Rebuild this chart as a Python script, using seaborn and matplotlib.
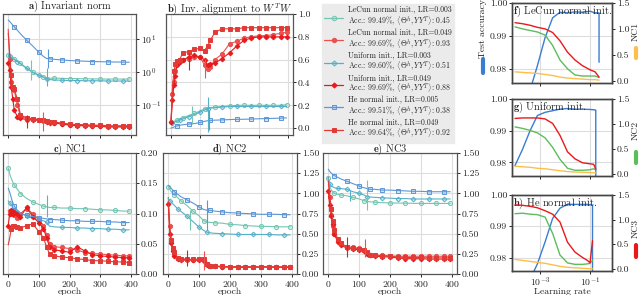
import matplotlib
matplotlib.use('Agg')
import matplotlib.pyplot as plt
import seaborn as sns
from matplotlib.colors import to_rgba
from matplotlib.lines import Line2D
from matplotlib.ticker import FormatStrFormatter, NullLocator

# ---------------- data ----------------
epochs = [0, 5, 10, 15, 20, 30, 40, 60, 80, 100, 115, 125, 135, 150,
          175, 200, 225, 250, 275, 300, 325, 350, 375, 395]

runs = ['lecun_lo', 'lecun_hi', 'unif_lo', 'unif_hi', 'he_lo', 'he_hi']
run_names = ['LeCun normal init.', 'LeCun normal init.', 'Uniform init.',
             'Uniform init.', 'He normal init.', 'He normal init.']
run_lr = ['0.003', '0.049', '0.003', '0.049', '0.005', '0.049']
run_acc = ['99.49', '99.69', '99.60', '99.69', '99.51', '99.64']
run_align = ['0.45', '0.93', '0.51', '0.88', '0.38', '0.92']

# a) invariant norm
norm_lecun_lo = [3.4, 3.1, 2.85, 2.65, 2.5, 2.15, 1.85, 1.35, 1.02, 0.82, 0.72, 0.68, 0.66, 0.66,
                 0.65, 0.64, 0.64, 0.63, 0.63, 0.62, 0.62, 0.62, 0.62, 0.62]
norm_unif_lo = [3.3, 3.0, 2.75, 2.55, 2.4, 2.1, 1.8, 1.3, 0.98, 0.8, 0.7, 0.62, 0.6, 0.58,
                0.57, 0.56, 0.56, 0.55, 0.55, 0.55, 0.54, 0.54, 0.54, 0.54]
norm_he_lo = [38, 34, 30, 26.5, 23.5, 18.5, 14.5, 9.3, 6.2, 4.0, 3.0, 2.6, 2.55, 2.45,
              2.35, 2.25, 2.2, 2.15, 2.1, 2.08, 2.05, 2.03, 2.02, 2.0]
norm_lecun_hi = [20, 2.5, 0.5, 0.32, 0.28, 0.1, 0.045, 0.04, 0.038, 0.037, 0.036, 0.033, 0.031, 0.03,
                 0.028, 0.026, 0.025, 0.025, 0.024, 0.024, 0.023, 0.023, 0.023, 0.023]
norm_unif_hi = [1.9, 1.2, 0.35, 0.15, 0.07, 0.045, 0.04, 0.037, 0.036, 0.035, 0.034, 0.032, 0.03, 0.029,
                0.027, 0.025, 0.024, 0.024, 0.023, 0.023, 0.022, 0.022, 0.022, 0.022]
norm_he_hi = [15, 3.5, 0.8, 0.35, 0.3, 0.15, 0.05, 0.042, 0.039, 0.037, 0.036, 0.034, 0.032, 0.031,
              0.029, 0.027, 0.026, 0.026, 0.025, 0.025, 0.024, 0.024, 0.024, 0.024]

# b) alignment to W^T W
align_lecun_lo = [0.05, 0.055, 0.06, 0.065, 0.07, 0.08, 0.09, 0.11, 0.13, 0.15, 0.17, 0.18, 0.18, 0.185,
                  0.19, 0.195, 0.2, 0.2, 0.2, 0.2, 0.2, 0.2, 0.2, 0.205]
align_unif_lo = [0.04, 0.045, 0.05, 0.055, 0.06, 0.07, 0.08, 0.1, 0.12, 0.14, 0.16, 0.17, 0.175, 0.18,
                 0.185, 0.19, 0.19, 0.19, 0.19, 0.19, 0.19, 0.19, 0.19, 0.19]
align_he_lo = [0.0, 0.005, 0.01, 0.015, 0.02, 0.025, 0.03, 0.035, 0.04, 0.05, 0.06, 0.065, 0.068, 0.07,
               0.072, 0.075, 0.077, 0.078, 0.08, 0.082, 0.084, 0.086, 0.088, 0.09]
align_lecun_hi = [0.04, 0.3, 0.4, 0.5, 0.57, 0.6, 0.6, 0.61, 0.62, 0.62, 0.55, 0.52, 0.54, 0.6,
                  0.65, 0.74, 0.76, 0.79, 0.8, 0.81, 0.81, 0.82, 0.83, 0.84]
align_unif_hi = [0.05, 0.25, 0.38, 0.46, 0.55, 0.58, 0.6, 0.62, 0.64, 0.62, 0.6, 0.55, 0.56, 0.57,
                 0.61, 0.66, 0.72, 0.77, 0.79, 0.8, 0.8, 0.8, 0.8, 0.8]
align_he_hi = [0.05, 0.35, 0.5, 0.56, 0.59, 0.6, 0.66, 0.67, 0.69, 0.70, 0.68, 0.72, 0.77, 0.84,
               0.87, 0.87, 0.87, 0.88, 0.88, 0.88, 0.88, 0.88, 0.88, 0.88]

# c) NC1
nc1_lecun_lo = [0.175, 0.165, 0.158, 0.152, 0.147, 0.14, 0.133, 0.125, 0.119, 0.115, 0.112, 0.111, 0.11, 0.11,
                0.109, 0.109, 0.108, 0.108, 0.107, 0.106, 0.106, 0.105, 0.104, 0.104]
nc1_unif_lo = [0.121, 0.118, 0.114, 0.11, 0.107, 0.103, 0.1, 0.096, 0.092, 0.09, 0.088, 0.086, 0.079, 0.078,
               0.077, 0.077, 0.076, 0.076, 0.075, 0.075, 0.074, 0.074, 0.073, 0.073]
nc1_he_lo = [0.142, 0.135, 0.126, 0.118, 0.112, 0.105, 0.1, 0.097, 0.095, 0.093, 0.092, 0.091, 0.09, 0.09,
             0.089, 0.088, 0.088, 0.087, 0.087, 0.087, 0.086, 0.086, 0.085, 0.085]
nc1_lecun_hi = [0.105, 0.104, 0.1, 0.105, 0.098, 0.092, 0.1, 0.108, 0.1, 0.09, 0.08, 0.065, 0.05, 0.045,
                0.044, 0.042, 0.04, 0.035, 0.034, 0.033, 0.032, 0.031, 0.03, 0.03]
nc1_unif_hi = [0.08, 0.1, 0.106, 0.1, 0.103, 0.1, 0.095, 0.11, 0.095, 0.085, 0.075, 0.06, 0.045, 0.04,
               0.038, 0.036, 0.045, 0.038, 0.032, 0.03, 0.029, 0.028, 0.027, 0.027]
nc1_he_hi = [0.048, 0.06, 0.075, 0.08, 0.08, 0.078, 0.076, 0.08, 0.083, 0.07, 0.06, 0.045, 0.033, 0.03,
             0.028, 0.027, 0.025, 0.024, 0.022, 0.022, 0.021, 0.02, 0.02, 0.019]

# d) NC2
nc2_lecun_lo = [1.08, 1.05, 1.02, 1.0, 0.98, 0.95, 0.91, 0.85, 0.78, 0.72, 0.66, 0.645, 0.64, 0.635,
                0.63, 0.615, 0.61, 0.6, 0.595, 0.59, 0.59, 0.585, 0.585, 0.585]
nc2_unif_lo = [0.94, 0.91, 0.89, 0.87, 0.85, 0.81, 0.78, 0.72, 0.65, 0.58, 0.54, 0.52, 0.51, 0.505,
               0.5, 0.495, 0.49, 0.49, 0.49, 0.49, 0.49, 0.485, 0.485, 0.485]
nc2_he_lo = [1.1, 1.08, 1.06, 1.04, 1.02, 0.99, 0.96, 0.92, 0.88, 0.83, 0.8, 0.79, 0.79, 0.78,
             0.77, 0.76, 0.755, 0.75, 0.745, 0.74, 0.74, 0.74, 0.735, 0.735]
nc2_lecun_hi = [0.95, 0.6, 0.4, 0.3, 0.25, 0.2, 0.18, 0.18, 0.17, 0.18, 0.17, 0.12, 0.1, 0.095,
                0.09, 0.088, 0.087, 0.086, 0.085, 0.085, 0.085, 0.084, 0.083, 0.083]
nc2_unif_hi = [0.87, 0.5, 0.38, 0.28, 0.22, 0.18, 0.17, 0.175, 0.175, 0.17, 0.16, 0.11, 0.1, 0.095,
               0.09, 0.085, 0.085, 0.085, 0.085, 0.09, 0.09, 0.085, 0.085, 0.085]
nc2_he_hi = [0.9, 0.55, 0.42, 0.32, 0.27, 0.2, 0.19, 0.185, 0.18, 0.185, 0.18, 0.13, 0.105, 0.1,
             0.095, 0.09, 0.09, 0.09, 0.09, 0.088, 0.09, 0.088, 0.088, 0.088]

# e) NC3
nc3_lecun_lo = [1.19, 1.08, 1.04, 1.02, 1.0, 0.99, 0.98, 0.97, 0.95, 0.93, 0.91, 0.9, 0.895, 0.89,
                0.885, 0.88, 0.88, 0.878, 0.876, 0.875, 0.875, 0.875, 0.875, 0.875]
nc3_unif_lo = [1.19, 1.12, 1.09, 1.08, 1.07, 1.06, 1.06, 1.05, 1.02, 1.0, 0.98, 0.96, 0.955, 0.95,
               0.945, 0.94, 0.935, 0.935, 0.93, 0.93, 0.93, 0.93, 0.93, 0.93]
nc3_he_lo = [1.3, 1.27, 1.25, 1.23, 1.22, 1.2, 1.18, 1.15, 1.12, 1.09, 1.07, 1.06, 1.05, 1.05,
             1.04, 1.04, 1.035, 1.03, 1.025, 1.025, 1.02, 1.02, 1.02, 1.02]
nc3_lecun_hi = [1.2, 0.95, 0.73, 0.6, 0.5, 0.42, 0.38, 0.34, 0.33, 0.32, 0.3, 0.26, 0.24, 0.235,
                0.23, 0.225, 0.22, 0.22, 0.22, 0.22, 0.22, 0.22, 0.22, 0.22]
nc3_unif_hi = [1.03, 0.85, 0.72, 0.62, 0.5, 0.4, 0.36, 0.32, 0.31, 0.3, 0.29, 0.25, 0.23, 0.22,
               0.215, 0.21, 0.2, 0.19, 0.19, 0.19, 0.185, 0.185, 0.185, 0.185]
nc3_he_hi = [1.15, 0.98, 0.8, 0.66, 0.55, 0.44, 0.38, 0.33, 0.32, 0.31, 0.3, 0.27, 0.24, 0.23,
             0.225, 0.22, 0.21, 0.205, 0.205, 0.205, 0.2, 0.2, 0.2, 0.2]

# short vertical markers: (epoch, low, high, run)
bars_a = [(130, 1.3, 5.2, 'he_lo'), (74, 0.57, 2.3, 'lecun_lo'), (125, 0.38, 1.3, 'unif_lo'),
          (61, 0.02, 0.05, 'unif_hi'), (114, 0.017, 0.063, 'lecun_hi')]
bars_b = [(71, 0.04, 0.19, 'lecun_lo'), (127, -0.03, 0.27, 'unif_lo'), (129, -0.02, 0.16, 'he_lo'),
          (62, 0.51, 0.66, 'unif_hi'), (117, 0.44, 0.61, 'lecun_hi')]
bars_c = [(128, 0.095, 0.13, 'unif_lo')]
bars_d = [(72, 0.55, 0.79, 'lecun_lo'), (127, 0.55, 0.92, 'he_lo'),
          (61, 0.1, 0.3, 'unif_hi'), (116, 0.05, 0.28, 'lecun_hi')]
bars_e = [(72, 0.9, 1.04, 'unif_lo'), (126, 0.79, 1.17, 'lecun_lo'),
          (62, 0.21, 0.46, 'unif_hi'), (119, 0.21, 0.43, 'lecun_hi')]

# f-h) learning-rate sweeps (last point repeated for the accuracy drop)
lr_f = [1.0e-4, 2.0e-4, 4.0e-4, 7.9e-4, 1.6e-3, 3.2e-3, 6.3e-3, 1.26e-2, 2.5e-2, 5.0e-2, 0.1, 0.16, 0.23, 0.23]
acc_f = [0.955, 0.965, 0.9735, 0.981, 0.9895, 0.9955, 0.9972, 0.997, 0.9973, 0.9972, 0.9975, 0.997, 0.997, 0.982]
nc1_f = [0.17, 0.16, 0.15, 0.14, 0.12, 0.10, 0.07, 0.05, 0.04, 0.03, 0.02, 0.02, 0.01, 0.01]
nc2_f = [1.04, 1.0, 0.97, 0.94, 0.88, 0.68, 0.4, 0.23, 0.11, 0.09, 0.09, 0.09, 0.06, 0.06]
nc3_f = [1.12, 1.1, 1.07, 1.03, 1.0, 0.93, 0.77, 0.55, 0.40, 0.29, 0.21, 0.17, 0.07, 0.07]

lr_g = [1.0e-4, 2.0e-4, 4.0e-4, 7.9e-4, 1.6e-3, 3.2e-3, 6.3e-3, 1.26e-2, 2.5e-2, 5.0e-2, 0.1, 0.14, 0.17, 0.17]
acc_g = [0.979, 0.9841, 0.990, 0.9948, 0.9958, 0.9963, 0.9968, 0.997, 0.9968, 0.9968, 0.9967, 0.9966, 0.9965, 0.97]
nc1_g = [0.15, 0.14, 0.13, 0.11, 0.10, 0.08, 0.06, 0.045, 0.035, 0.03, 0.025, 0.02, 0.02, 0.02]
nc2_g = [0.94, 0.91, 0.87, 0.82, 0.72, 0.53, 0.29, 0.11, 0.07, 0.07, 0.08, 0.10, 0.08, 0.08]
nc3_g = [1.11, 1.12, 1.12, 1.12, 1.10, 1.01, 0.77, 0.44, 0.30, 0.22, 0.20, 0.19, 0.09, 0.09]

lr_h = [1.0e-4, 2.0e-4, 4.0e-4, 7.9e-4, 1.6e-3, 3.2e-3, 6.3e-3, 1.26e-2, 2.5e-2, 5.0e-2, 7.9e-2, 0.1, 0.126, 0.126]
acc_h = [0.959, 0.966, 0.973, 0.978, 0.985, 0.9925, 0.9958, 0.997, 0.997, 0.997, 0.997, 0.9969, 0.9968, 0.95]
nc1_h = [0.19, 0.17, 0.15, 0.13, 0.11, 0.08, 0.05, 0.03, 0.02, 0.01, 0.005, 0.0, 0.0, 0.0]
nc2_h = [1.12, 1.13, 1.11, 1.10, 1.05, 0.72, 0.28, 0.12, 0.09, 0.09, 0.10, 0.11, 0.17, 0.17]
nc3_h = [1.30, 1.29, 1.27, 1.24, 1.18, 1.11, 0.95, 0.54, 0.34, 0.23, 0.17, 0.12, 0.57, 0.57]

# ---------------- style ----------------
colors = {'lecun_lo': '#72c6b2', 'unif_lo': '#56b1c8', 'he_lo': '#5b97d8',
          'lecun_hi': '#ec5050', 'unif_hi': '#e8191b', 'he_hi': '#e23a36'}
markers = {'lecun_lo': 'o', 'unif_lo': 'D', 'he_lo': 's',
           'lecun_hi': 'o', 'unif_hi': 'D', 'he_hi': 's'}
marks = {'lecun_lo': [0, 4, 6, 8, 10, 13, 15, 17, 19, 21, 23],
         'unif_lo': [1, 5, 7, 9, 11, 14, 16, 18, 20, 22],
         'he_lo': [4, 7, 9, 12, 14, 16, 18, 20, 22],
         'lecun_hi': list(range(1, 24)),
         'unif_hi': list(range(0, 24)),
         'he_hi': list(range(2, 24))}
c_acc, c_nc1, c_nc2, c_nc3 = '#3a7dd1', '#fdbf4a', '#5cbd5c', '#e8191b'

sns.set_style('whitegrid')
plt.rcParams['font.family'] = 'cmr10'
plt.rcParams['mathtext.fontset'] = 'cm'
plt.rcParams['axes.formatter.use_mathtext'] = True
plt.rcParams['axes.unicode_minus'] = False
plt.rcParams['grid.color'] = '#dddddd'
plt.rcParams['grid.linewidth'] = 0.8
plt.rcParams['axes.edgecolor'] = '#555555'
plt.rcParams['axes.linewidth'] = 0.9

W, H = 640, 295
fig = plt.figure(figsize=(6.4, 2.95), dpi=100)


def add_ax(l, t, r, b):
    return fig.add_axes([l / W, 1 - b / H, (r - l) / W, (b - t) / H])


def draw_runs(ax, series, bars):
    for key in runs:
        c = colors[key]
        lo = key.endswith('_lo')
        ms = 2.4 if markers[key] == 'D' else 3.0
        sns.lineplot(x=epochs, y=series[key], ax=ax, color=c, lw=0.8,
                     marker=markers[key], ms=ms, mew=0.7, mec=c,
                     mfc=to_rgba(c, 0.25) if lo else c,
                     markevery=marks[key], legend=False)
    for ep, y0, y1, key in bars:
        ax.vlines(ep, y0, y1, color=colors[key], lw=0.8)


def style_epoch_ax(ax, title, ylim, yticks, fmt, xlabels):
    ax.set_xlim(-17, 417)
    ax.set_xticks([0, 100, 200, 300, 400])
    ax.set_ylim(*ylim)
    ax.set_yticks(yticks)
    if fmt:
        ax.yaxis.set_major_formatter(FormatStrFormatter(fmt))
    ax.yaxis.set_minor_locator(NullLocator())
    ax.yaxis.tick_right()
    ax.tick_params(axis='both', labelsize=7, length=2.5, width=0.7, pad=1.0,
                   bottom=True, right=True, left=False, labelleft=False,
                   labelright=True, labelbottom=xlabels)
    if title:
        ax.set_title(title, fontsize=7.5, pad=1.0)
    ax.set_xlabel('epoch' if xlabels else '', fontsize=7, labelpad=-1)
    ax.set_ylabel('')


ax_a = add_ax(3, 14, 136, 135)
ax_b = add_ax(166, 14, 293, 135)
ax_c = add_ax(3, 153, 136, 274)
ax_d = add_ax(163, 153, 297, 274)
ax_e = add_ax(323, 153, 457, 274)

ax_a.set_yscale('log')
draw_runs(ax_a, dict(zip(runs, [norm_lecun_lo, norm_lecun_hi, norm_unif_lo, norm_unif_hi, norm_he_lo, norm_he_hi])), bars_a)
style_epoch_ax(ax_a, r'$\mathbf{a)}$ Invariant norm', (10 ** -1.9, 10 ** 1.76), [0.1, 1, 10], None, False)

draw_runs(ax_b, dict(zip(runs, [align_lecun_lo, align_lecun_hi, align_unif_lo, align_unif_hi, align_he_lo, align_he_hi])), bars_b)
style_epoch_ax(ax_b, None, (-0.06, 1.0), [0, 0.2, 0.4, 0.6, 0.8, 1.0], '%.1f', False)
# title of b placed from the top edge so its superscript stays inside the figure
fig.text((166 + 293) / 2 / W, 1 - 1 / H, r'$\mathbf{b)}$ Inv. alignment to $W^TW$',
         ha='center', va='top', fontsize=7.5)

draw_runs(ax_c, dict(zip(runs, [nc1_lecun_lo, nc1_lecun_hi, nc1_unif_lo, nc1_unif_hi, nc1_he_lo, nc1_he_hi])), bars_c)
style_epoch_ax(ax_c, r'$\mathbf{c)}$ NC1', (0, 0.2), [0, 0.05, 0.1, 0.15, 0.2], '%.2f', True)

draw_runs(ax_d, dict(zip(runs, [nc2_lecun_lo, nc2_lecun_hi, nc2_unif_lo, nc2_unif_hi, nc2_he_lo, nc2_he_hi])), bars_d)
style_epoch_ax(ax_d, r'$\mathbf{d)}$ NC2', (0, 1.5), [0, 0.25, 0.5, 0.75, 1.0, 1.25, 1.5], '%.2f', True)

draw_runs(ax_e, dict(zip(runs, [nc3_lecun_lo, nc3_lecun_hi, nc3_unif_lo, nc3_unif_hi, nc3_he_lo, nc3_he_hi])), bars_e)
style_epoch_ax(ax_e, r'$\mathbf{e)}$ NC3', (0, 1.5), [0, 0.25, 0.5, 0.75, 1.0, 1.25, 1.5], '%.2f', True)

# legend
handles, labels = [], []
for key, name, lr, acc, al in zip(runs, run_names, run_lr, run_acc, run_align):
    c = colors[key]
    handles.append(Line2D([], [], color=c, lw=0.9, marker=markers[key],
                          ms=2.6 if markers[key] == 'D' else 3.2, mew=0.7, mec=c,
                          mfc=to_rgba(c, 0.25) if key.endswith('_lo') else c))
    labels.append(f'{name}, LR={lr}\nAcc.: $\\mathbf{{{acc}}}$%, '
                  f'$\\langle\\Theta^h, YY^T\\rangle$: $\\mathbf{{{al}}}$')
leg = fig.legend(handles, labels, loc='upper left', bbox_to_anchor=(322 / W, 1 - 4 / H),
                 fontsize=5.6, frameon=True, facecolor='#ebebeb', edgecolor='#ebebeb',
                 fancybox=False, framealpha=1, handlelength=2.4, handletextpad=0.6,
                 labelspacing=0.08, borderpad=0.3, borderaxespad=0)
for t in leg.get_texts():
    t.set_linespacing(0.95)

# learning-rate panels
lr_panels = [
    (add_ax(512, 3, 612, 83), lr_f, acc_f, nc1_f, nc2_f, nc3_f, r'$\mathbf{f)}$ LeCun normal init.', False),
    (add_ax(512, 99, 612, 176), lr_g, acc_g, nc1_g, nc2_g, nc3_g, r'$\mathbf{g)}$ Uniform init.', False),
    (add_ax(512, 195, 612, 271), lr_h, acc_h, nc1_h, nc2_h, nc3_h, r'$\mathbf{h)}$ He normal init.', True),
]
for ax, lr, acc, n1, n2, n3, title, xlab in lr_panels:
    ax.set_xscale('log')
    axr = ax.twinx()
    sns.lineplot(x=lr, y=acc, ax=ax, color=c_acc, lw=1.0, estimator=None, sort=False)
    for vals, c in ((n1, c_nc1), (n2, c_nc2), (n3, c_nc3)):
        sns.lineplot(x=lr, y=vals, ax=axr, color=c, lw=1.0, estimator=None, sort=False)
    ax.set_xlim(10 ** -4.12, 10 ** -0.12)
    ax.set_xticks([1e-3, 1e-1])
    ax.xaxis.set_minor_locator(NullLocator())
    ax.set_ylim(0.9757, 1.0)
    ax.set_yticks([0.98, 0.99, 1.0])
    ax.yaxis.set_major_formatter(FormatStrFormatter('%.2f'))
    axr.set_ylim(-0.045, 1.5)
    axr.set_yticks([0, 0.5, 1.0, 1.5])
    axr.yaxis.set_major_formatter(FormatStrFormatter('%.1f'))
    axr.grid(False)
    ax.tick_params(axis='both', labelsize=7, length=2.5, width=0.7, pad=1.0,
                   left=True, bottom=True, labelbottom=xlab)
    axr.tick_params(axis='y', labelsize=7, length=2.5, width=0.7, pad=1.0, right=True)
    ax.set_ylabel('')
    axr.set_ylabel('')
    ax.set_xlabel('Learning rate' if xlab else '', fontsize=7, labelpad=-1)
    for sp in list(ax.spines.values()) + list(axr.spines.values()):
        sp.set_color('#444444')
        sp.set_linewidth(1.0)
    ax.text(0.01, 0.98, title, transform=ax.transAxes, va='top', ha='left', fontsize=7.5)

# colour keys for the twin axes
fig.text(483 / W, 1 - 29 / H, 'Test accuracy', rotation=90, ha='center', va='center', fontsize=7)
fig.add_artist(Line2D([483 / W, 483 / W], [1 - 59 / H, 1 - 73 / H], color=c_acc, lw=3,
                      transform=fig.transFigure))
for name, yc, y0, y1, c in (('NC1', 31, 48, 58, c_nc1), ('NC2', 130, 152, 163, c_nc2),
                            ('NC3', 228, 245, 257, c_nc3)):
    fig.text(636 / W, 1 - yc / H, name, rotation=90, ha='center', va='center', fontsize=7)
    fig.add_artist(Line2D([636 / W, 636 / W], [1 - y0 / H, 1 - y1 / H], color=c, lw=3,
                          transform=fig.transFigure))

fig.savefig('out.png', dpi=100)
